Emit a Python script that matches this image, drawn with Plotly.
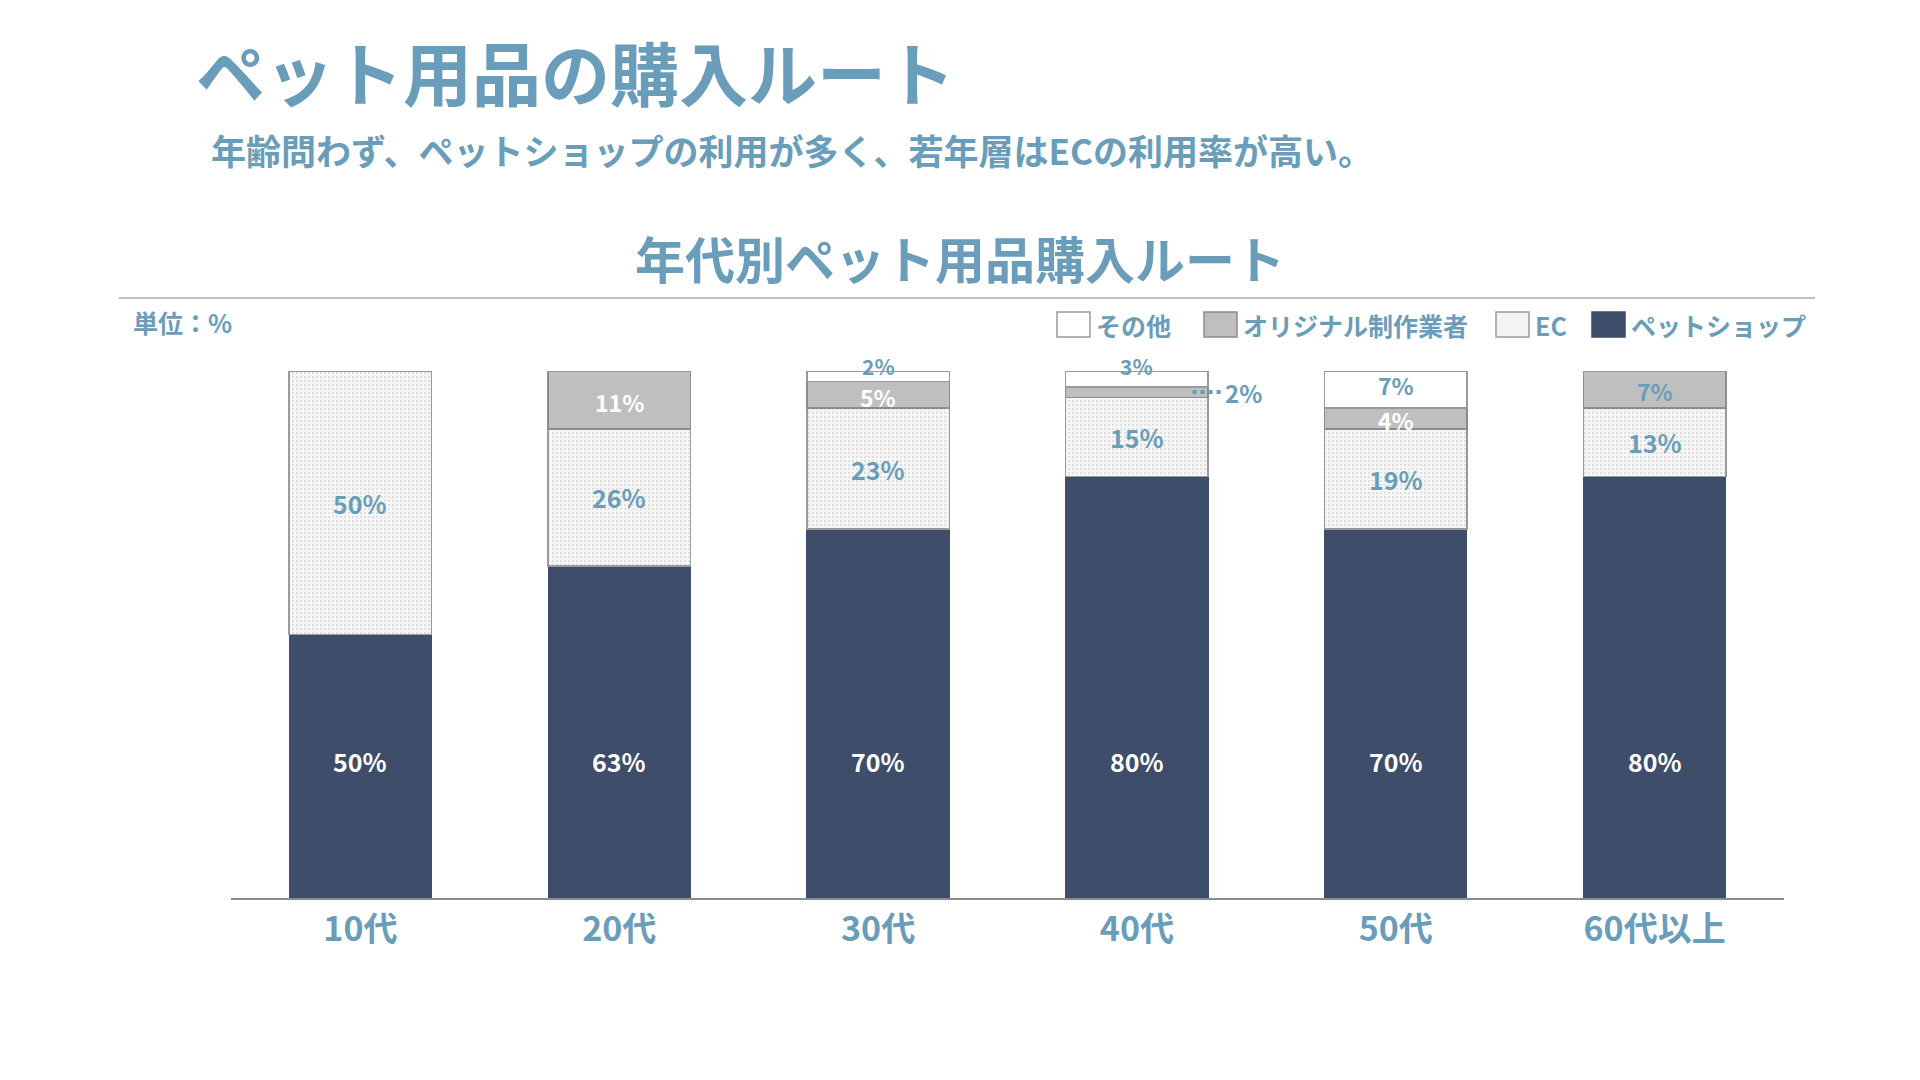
import plotly.graph_objects as go

# ---- data ----
categories = ["10代", "20代", "30代", "40代", "50代", "60代以上"]
petshop = [50, 63, 70, 80, 70, 80]
ec = [50, 26, 23, 15, 19, 13]
original = [0, 11, 5, 2, 4, 7]
other = [0, 0, 2, 3, 7, 0]
series_names = ["ペットショップ", "EC", "オリジナル制作業者", "その他"]

# ---- style ----
FONT = "Noto Sans CJK JP"
BLUE = "#6a9dba"
NAVY = "#3d4d6a"
GRAY = "#bfbfbf"
EDGE = "#9a9a9a"
EC_FILL = "#f4f4f4"
W, H = 1920, 1080
L, R, T, B = 231, 1784, 371, 898


def px(x):
    return (x - L) / (R - L)


def py(y):
    return (B - y) / (B - T)


fig = go.Figure()
fig.add_trace(go.Bar(x=categories, y=petshop, name=series_names[0],
                     marker=dict(color=NAVY, line=dict(color=NAVY, width=1))))
fig.add_trace(go.Bar(x=categories, y=ec, name=series_names[1],
                     marker=dict(color=EC_FILL, line=dict(color=EDGE, width=1.5),
                                 pattern=dict(shape=".", fgcolor="#c4c4c4", bgcolor="#f7f7f7",
                                              size=4, solidity=0.25))))
fig.add_trace(go.Bar(x=categories, y=original, name=series_names[2],
                     marker=dict(color=GRAY, line=dict(color="#8c8c8c", width=1.5))))
fig.add_trace(go.Bar(x=categories, y=other, name=series_names[3],
                     marker=dict(color="#ffffff", line=dict(color=EDGE, width=1.5))))

# ---- value labels ----
annotations = []
DARK_LABEL_Y = 26
orig_label_colors = ["white", "white", "white", BLUE, "white", BLUE]


def lab(x, y, text, color, size=25, yshift=0):
    return dict(x=x, y=y, xref="x", yref="y", text=f"<b>{text}</b>", showarrow=False,
                yshift=yshift, borderpad=0,
                font=dict(family=FONT, size=size, color=color))


for i, c in enumerate(categories):
    base = 0
    annotations.append(lab(c, DARK_LABEL_Y, f"{petshop[i]}%", "white"))
    base += petshop[i]
    if ec[i]:
        annotations.append(lab(c, base + ec[i] / 2, f"{ec[i]}%", BLUE))
    base += ec[i]
    if original[i]:
        if original[i] < 3:
            annotations.append(lab(i + 0.41, base + original[i] / 2, f"{original[i]}%", BLUE,
                                   size=24))
            fig.add_shape(type="line", xref="x", yref="y", x0=i + 0.215, x1=i + 0.33,
                          y0=base + original[i] / 2, y1=base + original[i] / 2,
                          line=dict(color=BLUE, width=4, dash="dot"))
        else:
            annotations.append(lab(c, base + original[i] / 2, f"{original[i]}%",
                                   orig_label_colors[i], size=23, yshift=-2))
    base += original[i]
    if other[i]:
        if other[i] >= 5:
            annotations.append(lab(c, base + other[i] / 2, f"{other[i]}%", BLUE, size=23,
                                   yshift=4))
        else:
            annotations.append(lab(c, 100, f"{other[i]}%", BLUE, size=21, yshift=5))

# ---- titles and notes ----
annotations.append(dict(x=px(194), y=py(71), xref="paper", yref="paper", xanchor="left",
                        yanchor="middle", text="<b>ペット用品の購入ルート</b>", showarrow=False,
                        font=dict(family=FONT, size=69, color=BLUE)))
annotations.append(dict(x=px(209), y=py(149), xref="paper", yref="paper", xanchor="left",
                        yanchor="middle",
                        text="<b>年齢問わず、ペットショップの利用が多く、若年層はECの利用率が高い。</b>",
                        showarrow=False, font=dict(family=FONT, size=35, color=BLUE)))
annotations.append(dict(x=px(960), y=py(257), xref="paper", yref="paper", xanchor="center",
                        yanchor="middle", text="<b>年代別ペット用品購入ルート</b>", showarrow=False,
                        font=dict(family=FONT, size=50, color=BLUE)))
annotations.append(dict(x=px(131), y=py(322), xref="paper", yref="paper", xanchor="left",
                        yanchor="middle", text="<b>単位：%</b>", showarrow=False,
                        font=dict(family=FONT, size=25, color=BLUE)))

fig.add_shape(type="line", xref="paper", yref="paper", x0=px(119), x1=px(1815),
              y0=py(298), y1=py(298), line=dict(color="#c0c0c0", width=2))

# ---- legend (drawn) ----
legend_items = [("その他", "#ffffff", EDGE), ("オリジナル制作業者", GRAY, "#8c8c8c"),
                ("EC", EC_FILL, EDGE), ("ペットショップ", NAVY, NAVY)]
legend_box_left = [1057, 1204, 1496, 1592]
for (name, fill, edge), bx in zip(legend_items, legend_box_left):
    fig.add_shape(type="rect", xref="paper", yref="paper", x0=px(bx), x1=px(bx + 33),
                  y0=py(337), y1=py(312), fillcolor=fill, line=dict(color=edge, width=1.5))
    annotations.append(dict(x=px(bx + 37), y=py(325), xref="paper", yref="paper",
                            xanchor="left", yanchor="middle", text=f"<b>{name}</b>",
                            showarrow=False, font=dict(family=FONT, size=25, color=BLUE)))

fig.update_layout(
    width=W, height=H,
    margin=dict(l=L, r=W - R, t=T, b=H - B, pad=0),
    paper_bgcolor="white", plot_bgcolor="white",
    barmode="stack", bargap=0.45,
    showlegend=False,
    xaxis=dict(showline=True, linecolor="#8c8c8c", linewidth=2, ticks="",
               tickfont=dict(family=FONT, size=34, color=BLUE), showgrid=False,
               ticklabelstandoff=0, tickprefix="<b>", ticksuffix="</b>"),
    yaxis=dict(range=[0, 100], visible=False, showgrid=False, zeroline=False),
    annotations=annotations,
    font=dict(family=FONT),
)

fig.write_html("out.html", config={"displayModeBar": False},
               post_script="document.body.style.margin='0';document.body.style.overflow='hidden';")
